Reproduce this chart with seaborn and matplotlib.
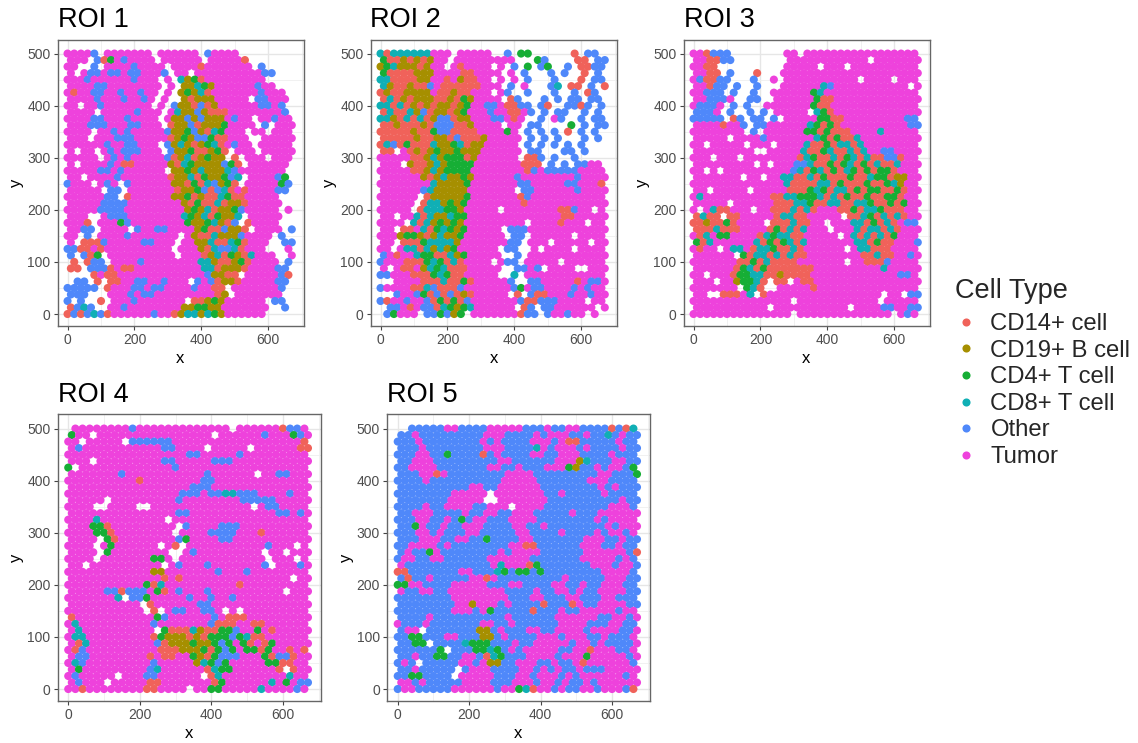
import pandas as pd
import matplotlib
matplotlib.use("Agg")
import matplotlib.pyplot as plt
import seaborn as sns

# cell positions, one string per row from y=500 down to y=0
# C=CD14+ cell, B=CD19+ B cell, 4=CD4+ T cell, 8=CD8+ T cell, O=Other, T=Tumor, .=empty
roi_1 = [
    "TTTTO.TTTTTTT.TTTTTT.OTTTT........",
    "TTT.OC4TOTTTT.TTTTTT.TTTTTC.......",
    "TT..O.TTTTOTTTT.TTTTCTTTTTTT.O....",
    "T.TOOTOOTOOTTTO.TT.TTTTTTTTTTOO...",
    "TTTOTTTTTTOTTT.T.8B4CTTTTTTTTT....",
    "TTTTOOTTTTTTTT.T.BB84BTTTTTTOTT...",
    "TCTTOOTTOTTOTT.T.B4B8CTTTTTTTOTTT.",
    "TTTTOTTTOTTOT.T..BCBBBTTTTT.OOTTT.",
    "TT.TTOTTTTTTT.T.OBBCOCBTTTTTTOOTO.",
    "TTTT.TTTTTOTTT.T8BBOBCCCTTTTTTTTO.",
    "TTTTOOTTTOTTTT.TBBOBOBBBTOTT.TTOTT",
    "TTTOOOTTTOOTTT.CBBOCBBB4TTTT.O.TTT",
    "TTTT.TTOTOTTTTTOBB4OBC84TTT.TT.TTT",
    "TTT.TTTOOOTTTTTCB4BOO4CCTTT..TTTTT",
    "TTTTTTOTTOOTTT.OB8BCB48CTOTT.TTTTT",
    "T.TT.TOTOOOTTT.OBB4CCB4C.TTT.TTTTT",
    "TTTTT.TOTOTTTTTOCB8CB4BB.C.TTT.TTT",
    "T.TTTTOTCCTTTTTBC84BBBBO4C.TTTTTT.",
    "TTTTTOOTOTTTTTT.BB4B8BBB8OTTTTTTT.",
    "TT.TTTTOTTTTTTTCBB8C4BB4O8.TTTTO4.",
    "OTTT.TOT.OTTTTTTBBC4C8OB4C.TTTTT4O",
    "TTTTT.OO.TTTTTTTCBB4OCO8CTCTTTTOO.",
    "TTTTTTOO.CTTTTTTBB4CBCC84CCTTTTT..",
    "TTTTTOOOOTTTTTTTTBC4CC8CBBCTTTTT..",
    "TTTTTOOOOTTTTTTTTTB4B8CBB4OTTTTT.T",
    "TTT..TOOOTTTTTTTT84B8C4BB8.TTTTT..",
    "TTTC.TTT4OTTTTTTTT4BB48BCO.CTTTT..",
    "TTOO.TTTT.OTTOOTTTTB4CCOBBC.TTTT.O",
    "TT.O.TTTTOTTTTTTT.TBCC8BBBOTTTT.O.",
    "T.CCCOTTTTTOOTTT.TTBB8CC84CTTT..OO",
    "OOCCTCTTTTTTTTTT.TTTBC8OO8CTTT...T",
    "O.OC4.TTTTTTTTTT.TTTCB8C4BC8TTT..T",
    ".C.COO.TTTTOTTTTTTTT88BCCB4CTTTT.O",
    "CC.OOOCTCCTTTTTTTTTT88CBBBCTTTTOO.",
    "....CTCCTTTTTTTTTTTTTOBBCC.TTTTTOC",
    ".OO.C.CCTTOOTTOTTT.OTOCBBCTTTTTOO.",
    "OOOOO.CTTTOOTOOTTTTOTTCC.TTTTTTTO.",
    "OOO...TTTOTOOTTTTTTTTTCB.TTTTTTT..",
    "O.O..C.TTTOTTTTTTT.CCB4BTTTTTT.OO.",
    "CO8O..TTOTTTTTTTTBB44BBTTTTTTT..O.",
    "COCO8OCTTTTTTOTTCB88B84BTTTTTT....",
]

roi_2 = [
    "8C888888TTT.TTTTT..O.44......C.OO.",
    "4CCBCBCBTT.TTTTTTTTT...4O....CC.OO",
    "B48BBBCBTT.TCTTTT.T.O.4.O4..O.CCOO",
    "4CCCCBBBTTTTCCTTTT.T.O...O.O..C.O.",
    "88CCCCBBTTCTBCCTT.T.T.O...O...C.OO",
    "8BCCBCCOTCCCCCCTTT.O.T...O8.CC.O.C",
    "CBCCBBBBTCCBCCTTT.TO..O...O..O.CO.",
    "C8CBCBBBCCBC4BTTTT.CO...O.O.OO.OO.",
    "88C8CBCBCBBCB4TTOOTCCOO.OC..OOCO.O",
    "C8CC8BOCBBCB4TTTOTTCCTO.O.OO..O.O.",
    "88BC8C8CBOOCBBTTTOOTCT..O.TO..O.OO",
    "CCBCCCBCOOOCCBTTTT.TT.OO....4.O.OO",
    "CCCCCBCC4OOCCCCTTTT4T.O.O.O.C.O.O.",
    "CCCCCBCCBBCOCCCBTTTTT.O.O.O...O.O.",
    "C8OC4CCC8BB48CBBTTTTT.O.O.O.O.O...",
    "CC.TCBCB4BB4BBBTTTTTT.OO...OO.O...",
    "TTTTTCCB8B444CBTTTTTT.CCO.O..O....",
    "TTT.BCCB8B4444TTTTTTTCCC.O.O.OOTT.",
    "TTTTTCCB8B4444TTTTTTTTCOTOOOOOTTTT",
    "TTTTTTBCB8BB4BTTTTTTOTTTTTTTTOTTTT",
    "TTTTTTTT8BBBB4TTTTTTTOOTTTTTOOTTTC",
    "TTTTTTO8BBBBBTTTTTTT.OOTTTTTTOTTTT",
    "TTTTTT.CBBBBB4TTTTTTTCOTTTTTTTTTTT",
    "TTTTT.C88B4B4TTTTTTTTCTTTTTTTTTTTT",
    "TTTTT.C88844BTTTTT.TTTTTTTTCCOTT.T",
    "TT.TT8C8BB844TTTTTTTTTTTTTTCCTTTTT",
    "TTTT.8C8B4B4BTTTTTTTTT.TTTTCTTT.TT",
    "TT.CCT8C484B4TTTTT.OOOTTTTTTTTTTTT",
    "TTTB44BCB8BB4TTTTTT.OO.TTTTTT.TTTT",
    "TT.CCC48888BTTTTTTTOO.TTT.TTTTT.TT",
    "TT.T88C8B8B4TTTTTT.OO..T.TTTT.TTTT",
    "OTCTT844CC8B4TTTTT..O.TTTTTTTTTTTT",
    "OTTTCCC484C8CTTTT.TOO.TTTTT.TTTTTT",
    "T.TCCTB848CCCTTTTT..OOTO.TTTT..TTT",
    "OOTTTCCC484CCTTTTT..8.TTTTTTTTTTTT",
    "..TTTTCCC8CC4CTTTTTO..OOTTTTTCTOOT",
    "OTTTTCC8OCCCOTTTTTTTO4TOOTTTTOTOTT",
    "..OTTO4COCOCBCTTTTT.C.OCCTTTOTTOTT",
    "OCTTOTTOC4C4COTTTTTTTOCCOOOTTTT.TT",
    ".OOTCTOOC84B48TTTTTT.CO.OOTTTTTT.T",
    ".O4TTT.OO4OB4.TTTTTTTCOO.OTTOTT.T.",
]

roi_3 = [
    "TTCOOO........TT.TTTTTTTTTTTTTTTTT",
    "TTCCOO........TTTTTTTTTTTT.TTTTTTT",
    "TTCC..........TTTTT.TTT.TTTTTTTTTT",
    "TTCC.O...C...TTTTTTTTTTTTTTTTTTTTT",
    "TOCCOO...O..T.TTTTTTTTTTT.TTTT.TTT",
    "TTCOO.O..O...TTTTTT8OTTTTTTTTTTT.T",
    "TTOOO.O..O..TTTTTT48TTTTTTTTTTTTTT",
    "TTOOOT..OO..TTTTTT4CCTTTTTTTTTTTTT",
    "TOOOT.O.O..TTTTTTT4CCTTTTTTTTTTTTT",
    "OOOT.O..O.O.TTTTT.84CTTTTTTTTTTTTT",
    "OOOOO.CO.OO.O.TTTTT44CCTTTTTTTTTOO",
    "TTTTCTTO.OOTTTTTT84C4CTTTTTTTTTTOO",
    "TTTTTTTT.O.TTTTTT44C4CCCTTTT8TTTTT",
    "TTTTT.TTTTOTTTTTTT84C4CC8TTTTTTTTT",
    "TT.TTTTT.TTT.TTTT8CC4C88C8TTTTTTTT",
    "TTTTTTTTT..TTTTT8CC48CC8C8TTOOTTTT",
    "TTT.TTT.TTTTTTTTC84CC8C48C8CCOOCTT",
    "TTTTTTTTT.T.TTTOO8CC4C48C4C8CC8TTT",
    "TT.T.TTTTTTTTTTO8C48C4C84C4C44CTTT",
    "TTTTTTT.TT.TT88CC8C4CCC4CC844CBBTT",
    "TTTTTTTTTTTTTT8CCCC88C4CCC4CC48BTT",
    "TT.TTTTT.TTTTTCCC484C88C4C44CC4CTT",
    "T8TTTTTTTTTTCC884448C8C4CC4CC44CTT",
    "TTTTT.TTTTTTCCC884CC88CC884CC4C4TT",
    "T.T8CCTTT.TTCCC8C8CTTTCC4C884CCCTT",
    "C8CC.CCTTTTTC88CCTTTTT.CC84C8C8CTT",
    "CCBCC4CTTTT.CCC8CCTT.TTT88C4C8CTOO",
    "CCC8CCCTTTTC4C8C8TTT.TTT8C88C8CTTT",
    "TC8T44TTTTC8488CCTTTTT.T8C8C8C4TTT",
    "4C8TTTTTT8C4C48C8TTTTTTT88C4CCTTTO",
    "TCTT.T88TC884CC8CTTTTTT.T88CCCTTTT",
    "TTTTTT.4C88C8C8CCTTTTTTTTCC8CCTTOT",
    "TTTTTTTCC4C8CCCCTTTTTTT.TTCCCOTTTT",
    "TTTTTTC48C4CCCCCCCTTTTTTTTTT8TTTTT",
    "TT.TTTC4488CCBCCCCTTTTTTTTTTTTTOOT",
    "TTT.TTB448C.CC.TCCTTTTTTTTTTTTTTTT",
    "TTTTTTT.48C..TTTTTCTTTTTTTTTTTTTTT",
    "TT..CCCT8.CTTTTTTTTTTTTTTTTT.TT.OO",
    "TTTTTTTTTTTTTTT.TTTTTTTTTTTT.TTTTT",
    "TTTTTTTTTTT.TTTTTTTTTTT.TTTTOOTTOO",
    "TTTTTTTTTTTTTTT.TTTTTTTTTTTTTT.TOT",
]

roi_4 = [
    ".TTTTTTTTOTTTTTTTTTTTTT.TTTTTTCOOT",
    "4TT.TTTTTTTTTTTTTTTT.TTTTTTOTTT4OT",
    "TT.TTTTT.OOOOOOTTTTTTTTTTTTTTTTTTC",
    "TOTTTTTTTTTTTOOTTTT.TTTTT.TTTTTTCC",
    "TTTTTTTTTTTTTTTTTOOTTTTTOTTTTTTTTT",
    "TTT.TTTTTTTTTOOTTTTTOOOTTTTTTTTTTT",
    "4.TTTTTTTTTTTTTOTTTTTTTTTTTTTTTTTT",
    "TTTTTTTOTTTTTTTTTTTOTTTTTT.TTOOTTT",
    "TTTTTTTTTTCTTTTTTTTOOTTTTTTTTTTTTT",
    "TTTTTTTTTTTTTTTTTOOOTTTTTTTTTTTTTT",
    "TTTTTTTTTTTTTTTTOOOTOO88OOOTTTTOTT",
    "TTTTT.TTTTTTTTTOTTTTTTTTOOOOOTTTTT",
    "TTTT..TTTT..TTTTTTTTTTTTTT.TOOTTTT",
    "TTTTTTTTTTTTTTTOOTTTTTTTTTTTTOOTOT",
    "TTTT8TTTTTTTTT.TTTTTTTTTTTTTTTTTTT",
    "TTT44CTTTTTTTTT.OTTTTOOOTTTTTTTTTT",
    "TTTT44CTTTTTTTT.TTTTOOOOTTTCTTTTTT",
    "TTTT.4CTTTTTTTTO4TTTTOOTTTTTTTTTTT",
    "TTTT.T4TTTTTT.TC.TTTTTTTTTTTOTTT.T",
    "TTTT.4TTTTTTTT..TOTTTTTTTTT.TT.TTT",
    "TTTT.TTTTTTT44T.TTTTTTTTTTTT.TTT.T",
    "TT.TTTTTTTTTT.TOTTTOTTTTTTTO.TTTOT",
    "TTTTTTTTTTTTBBTTTTTTTOTTTOTTTTTTTT",
    "TTTTTTTTTTTTTCTCTTTTTTTTTTTTTTT.TT",
    "TTTTTTTTTTT4C8TTTTTTTTTTCTTTTTTTTT",
    "TTTTTOOCOOOT4CTOTTTOTTTTTTTTTT.TTT",
    "TTTTTTT8.OO4TTTTTOTTOTTOTTTTTTTTTT",
    "TTTTTTTTTT.CTTTTTTOOTTTTTTTTTTTTTT",
    "TTTTTTTTTTT.C.TOOTTOOT.T.TTTTTTTTT",
    "CTTTTTTTTTTT4OTTTTTTOTCCCTTTTTTTTT",
    "T8TTTTTTTTTTOTTTTTTTOCCCTTCCTTTTTT",
    "T8TTTTTTTTTT.4CCC8BCC44OTT4TCTTTTT",
    "T88TTTTTTTTTC4BBBCBC444O48CCTTTTTT",
    "TC8TTTTTTTTTOCBBB4BB4O4T4CTC4TTTTT",
    "TCOTTTTTTTTTTCCCBBB4C4O4T44C4TTCTC",
    "TOOTTTTTTTTCTCCTT4BC4OOOTTT4COOCTT",
    "T8OTTTTTTTTTOTTTTTB84O4TTTTT44CCTT",
    "T4TTTTTTTTTO8TTTTTTC844TTTTTTC.CTT",
    "TOTTTTT.TTTOOTTTTTT.C8TTTTTTTTT8TT",
    "TOTTT.TTTTTCCTTTTTTTC4TTTTTT8T4TOO",
    "TTCTTTTTTTTCCTTTT.TT44TTTTT8TTTTOT",
]

roi_5 = [
    "..OOOOOTTOOOOTTTTTOOOTOOTTOOOOCOC8",
    "OOTOOOOOOOOOTTTOOOOTOTTTOOTOO8OTOO",
    "OOOTOOOOOOOOTOTOOOOTTTOTCCOOOOOTOO",
    "OOOTOOOOOOOOTTTOOOO8TOTTTOTOOOOTOO",
    "OOOTTOO4OOOOCOTOOOOTTOOTTTOOOOTOOO",
    "OOTTTOOOOOOOOOTTOOOOOOTTTB8OOOTTOO",
    "OOTTTTOOOOOOOTTOOTOOOTTT4BOOTOTTO4",
    "OOOTTCTOOOOOOOOTTTTOOOOOOOOOTTOOO4",
    "OOOOTOOOOOOOOOOTTTTTOOOOOOOTTTOOOO",
    "OOOOOOOOOOTTOOTTTTTTOOOOOOOOTOTOOO",
    "OOOOOOOOTTTTT.TTTTTTTOOTOOOOOTOOOO",
    "OOOOOOOTTTTT..TTTTTTTOOOOOOOOOOTOO",
    "OOOOTOOTTTTOOTTT.TTTTOOOOOOOOOTTTO",
    "OOTTTOOOOTOOTTOOTTTOOOOOTOOOTTTTTT",
    "OOOTTOOTO4OTTOOOTTTTOOOOOOOOTOTTTT",
    "OO4TOOTOOTTTOOOOTTOOTOOOOOOOOTOTTT",
    "OOOTTOTOOOTTOOOOOTTOOOOTOOOOTOTTOT",
    "OOOTTTOOTTOO4OOOOTTOOOOOOOTTTOOTOO",
    "OOTTTTOTOOOOOOOOTTCCOOOOOOTTTOOTOO",
    "OTOO4TOOOOOOOOTOTTTTOOOOOOTTTTTTOC",
    "OTTOOTTOOOOOOTTTTTTOOOOOOOTTTTTOTO",
    "TOOOOOOOOOOOOT8TTTC4OOOOOOOTTTOTTO",
    "CCOOOOOOOTTOOO84O44O4OOOOOOOOTTTTO",
    "OCOOTOOOOOTTCTOOOOOOOOOTOOOOOTTTOO",
    "44TTOOOOTTTTTOOOTTOOOOTTOOTOOTTTOO",
    "TOOTTOOTTTTTTTTOOOOTOOTTOTOOTTTTOO",
    "OOOOOOOOTTTTTTTTOOOTTOOOTTOOOTTOOO",
    "OOOOOOOOTTBTTTOTOOOOCOOOCTOOTTTTOO",
    "OOOOOOOOTTTOT4OOOOOCOOOTOOTTTTTOTT",
    "OOOOTOOOOOOOOOOTOOOOOOTTTTTTOOTTOT",
    "TOOOTOOOOOOOTTOOTOOOOOOTTTTOOOTTOO",
    "OTT.OOOOOOOBBOTOOOTTOOTTTTOTTTTOOT",
    "OO44OOOTTOOOBBOTOOOOTTTOTTTOOTOOOT",
    "OO44.OOOO8444OOOTOOTTTTTOTTOTOOOOT",
    "OOOOOO4.OOO4484OTOTTTTTOOTTCTTTOOT",
    "OOTOO44OOTTOC84OOOTTTTOTTT4TTTTTOT",
    "OTO.OOOOOTTOTBBOOTTTOOTOOTCTTTTTTO",
    "OOTOOOOO.OTTTOOOOTTOTOTOOTOOOTTTTT",
    "OO44OOOO.TTTTTOOOTTOTTTOTOTTTTTTOT",
    "TTOTOOOOOTTTTOOOTTTOTTOTOOTOTTTTTT",
    "OTTOOOOOTTTTTTOTT48CTTOTOOTTOTTTOC",
]

roi_maps = [roi_1, roi_2, roi_3, roi_4, roi_5]
roi_names = ["ROI 1", "ROI 2", "ROI 3", "ROI 4", "ROI 5"]

type_codes = {"C": "CD14+ cell", "B": "CD19+ B cell", "4": "CD4+ T cell",
              "8": "CD8+ T cell", "O": "Other", "T": "Tumor"}
cell_types = list(type_codes.values())
palette = dict(zip(cell_types, ["#F0625A", "#A68F00", "#16AE35", "#10AFB5", "#4F88FA", "#EE42DC"]))

# axes boxes in pixels: left, right, top, bottom
boxes = [(57.5, 303.5, 39.5, 326), (370.5, 616.5, 39.5, 326), (683.5, 929.5, 39.5, 326),
         (57.5, 320.5, 414.5, 701), (387, 649.5, 414.5, 701)]

W, H = 1138, 743


def map_to_frame(rows):
    xs, ys, types = [], [], []
    for r, row in enumerate(rows):
        for c, code in enumerate(row[:34]):
            if code in type_codes:
                xs.append(c * 20 + 10 * (r % 2))
                ys.append(500 - r * 12.5)
                types.append(type_codes[code])
    return pd.DataFrame({"x": xs, "y": ys, "Cell Type": types})


sns.set_theme(style="white")
plt.rcParams["font.family"] = ["Liberation Sans", "DejaVu Sans"]

fig = plt.figure(figsize=(W / 100, H / 100), dpi=100)

handles, labels = None, None
for rows, name, box in zip(roi_maps, roi_names, boxes):
    left, right, top, bottom = box
    ax = fig.add_axes([left / W, 1 - bottom / H, (right - left) / W, (bottom - top) / H])
    df = map_to_frame(rows)
    sns.scatterplot(df, x="x", y="y", hue="Cell Type", hue_order=cell_types, palette=palette,
                    s=34, linewidth=0, alpha=1, ax=ax, legend="full", zorder=3)
    handles, labels = ax.get_legend_handles_labels()
    ax.get_legend().remove()

    ax.set_xlim(-30, 705)
    ax.set_ylim(-23, 527)
    ax.set_xticks([0, 200, 400, 600])
    ax.set_yticks([0, 100, 200, 300, 400, 500])
    ax.set_xticks([100, 300, 500, 700], minor=True)
    ax.set_yticks([50, 150, 250, 350, 450], minor=True)
    ax.grid(True, which="major", color="#E6E6E6", linewidth=1.0, zorder=0)
    ax.grid(True, which="minor", color="#EFEFEF", linewidth=0.6, zorder=0)
    ax.set_axisbelow(True)
    ax.tick_params(axis="both", which="major", length=3, width=0.8, color="#444444",
                   labelsize=10, labelcolor="#4D4D4D", pad=2, bottom=True, left=True)
    ax.tick_params(axis="both", which="minor", length=0)
    for spine in ax.spines.values():
        spine.set_color("#666666")
        spine.set_linewidth(1.0)
    ax.set_xlabel("x", fontsize=12, color="black", labelpad=3)
    ax.set_ylabel("y", fontsize=12, color="black", labelpad=2)
    ax.set_title(name, loc="left", fontsize=19.5, color="black", pad=9)

legend = fig.legend(handles, labels, title="Cell Type", frameon=False, fontsize=17.2,
                    title_fontsize=19.5, loc="upper left", bbox_to_anchor=(945 / W, 1 - 268 / H),
                    labelspacing=0.19, handlelength=1.0, handletextpad=0.5, alignment="left",
                    borderpad=0.4, borderaxespad=0)
legend._legend_box.sep = 7

fig.savefig("out.png", dpi=100)
